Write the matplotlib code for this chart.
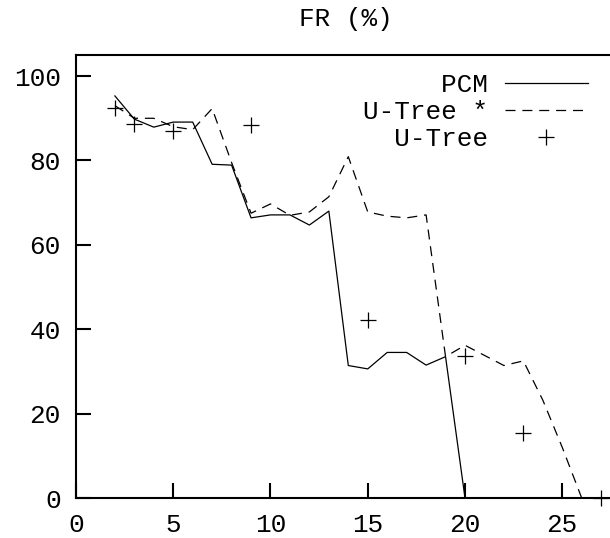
import matplotlib as mpl
mpl.use('Agg')
import matplotlib.pyplot as plt

# values
pcm_x = [2, 3, 4, 5, 6, 7, 8, 9, 10, 11, 12, 13, 14, 15, 16, 17, 18, 19, 20]
pcm_y = [95.3, 89.8, 87.9, 89.1, 89.1, 79.1, 78.9, 66.4, 67.1, 67.1, 64.7, 68.0,
         31.4, 30.6, 34.5, 34.5, 31.5, 33.5, 0]

utree_star_x = [2, 3, 4, 5, 6, 7, 8, 9, 10, 11, 12, 13, 14, 15, 16, 17, 18,
                19, 20, 21, 22, 23, 24, 25, 26]
utree_star_y = [93.0, 90.0, 90.0, 88.0, 87.3, 92.3, 79.5, 67.5, 69.7, 67.0, 67.8, 71.4,
                80.9, 67.8, 66.8, 66.4, 67.1, 33.5, 36.2, 33.8, 31.4, 32.5, 23.2, 12.0, 0]

utree_x = [2, 3, 5, 9, 15, 20, 23, 27]
utree_y = [92.5, 88.7, 87.0, 88.5, 42.3, 33.6, 15.5, 0]

xticks = [0, 5, 10, 15, 20, 25]
yticks = [0, 20, 40, 60, 80, 100]

plt.rcParams['font.family'] = ['Liberation Mono', 'DejaVu Sans Mono']
plt.rcParams['font.size'] = 18.7

fig = plt.figure(figsize=(6.10, 5.38), dpi=100)
# axes run past the right edge of the canvas, as in the reference
ax = fig.add_axes([76 / 610, 40 / 538, 583.5 / 610, 443 / 538])

ax.plot(pcm_x, pcm_y, color='black', lw=0.9, label='     PCM')
ax.plot(utree_star_x, utree_star_y, color='black', lw=0.9,
        dashes=(8, 5.5), label='U-Tree *')
ax.plot(utree_x, utree_y, ls='none', marker='+', ms=12, mew=0.9,
        color='black', clip_on=False, label='  U-Tree')

ax.set_xlim(0, 30)
ax.set_ylim(0, 105)
ax.set_xticks(xticks)
ax.set_yticks(yticks)
ax.tick_params(direction='in', length=11, width=1.5, pad=11, colors='black')
for s in ax.spines.values():
    s.set_linewidth(1.5)

fig.text(346 / 610, 1 - 19 / 538, 'FR (%)', ha='center', va='center')

ax.legend(loc='upper right', bbox_to_anchor=(588 / 610, 1 - 73 / 538),
          bbox_transform=fig.transFigure, frameon=False, markerfirst=False,
          borderaxespad=0, borderpad=0, labelspacing=0.12,
          handlelength=3.2, handletextpad=0.65, numpoints=1)

fig.savefig('out.png', dpi=100)
